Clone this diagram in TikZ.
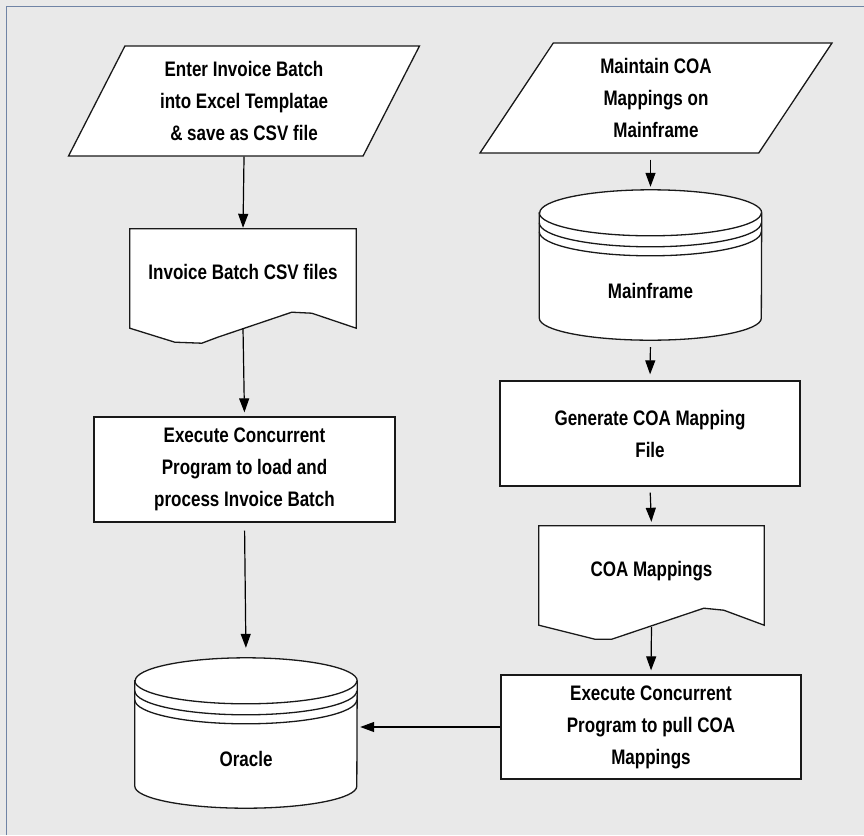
\documentclass[tikz,border=0pt]{standalone}
\usepackage{fontspec}
\newfontfamily\flowfont[FakeStretch=0.81]{Liberation Sans}
\usetikzlibrary{shapes.geometric,arrows.meta,calc,backgrounds}
\definecolor{backgray}{RGB}{233,233,233}
\definecolor{frameblue}{RGB}{112,132,165}

\begin{document}
\begin{tikzpicture}[x=1pt,y=1pt,
  every node/.style={font=\flowfont\bfseries\fontsize{21}{32}\selectfont, align=center},
  shapeline/.style={line width=1.3pt, draw=black!90},
  inbox/.style={trapezium, trapezium left angle=63.4, trapezium right angle=116.6, trapezium stretches=true, minimum width=352pt, minimum height=110pt, shapeline, fill=white, inner sep=0pt},
  procbox/.style={rectangle, shapeline, fill=white, minimum height=105pt},
  docbox/.style={rectangle, minimum height=99pt, text height=15pt, text depth=14pt},
  dbbox/.style={rectangle, minimum height=150pt, text height=67pt, text depth=0pt},
  arr/.style={line width=1.2pt, -{Triangle[length=14pt,width=10pt]}}]

\useasboundingbox (0,0) rectangle (864,-835);

% left column
\node[inbox] (enter) at (244,-101) {Enter Invoice Batch\\into Excel Templatae\\\& save as CSV file};
\node[docbox, minimum width=226pt] (csv) at (243,-278.5) {Invoice Batch CSV files};
\node[procbox, minimum width=301pt] (load) at (244.5,-469.5) {Execute Concurrent\\Program to load and\\process Invoice Batch};
\node[dbbox, minimum width=222pt] (oracle) at (246,-733) {Oracle};

% right column
\node[inbox] (maintain) at (656,-98) {Maintain COA\\Mappings on\\Mainframe};
\node[dbbox, minimum width=222pt] (mainframe) at (650.5,-265) {Mainframe};
\node[procbox, minimum width=300pt] (generate) at (650,-433.5) {Generate COA Mapping\\File};
\node[docbox, minimum width=225pt] (coa) at (651.5,-575.5) {COA Mappings};
\node[procbox, minimum width=300pt, minimum height=104pt] (pull) at (651,-727) {Execute Concurrent\\Program to pull COA\\Mappings};

\draw[arr, shorten >=1pt] (enter.south) -- (csv.north);
\draw[arr, shorten >=4pt] (csv.south) -- (load.north);
\draw[arr, shorten <=8pt, shorten >=10pt] (load.south) -- (oracle.north);
\draw[arr, shorten <=6pt, shorten >=3pt] (mainframe.north |- maintain.south) -- (mainframe.north);
\draw[arr, shorten <=7pt, shorten >=6pt] (mainframe.south) -- (generate.north);
\draw[arr, shorten <=6pt, shorten >=4pt] (generate.south) -- (coa.north);
\draw[arr, shorten <=2pt, shorten >=4pt] (coa.south) -- (pull.north);
\draw[arr, shorten >=3pt] (pull.west) -- (pull.west -| oracle.east);

\begin{scope}[on background layer]
\fill[backgray] (0,0) rectangle (864,-835);
\draw[frameblue, line width=1.6pt] (6.5,-835) -- (6.5,-6.5) -- (864,-6.5);

% documents
\draw[shapeline, fill=white] (csv.south east) -- (csv.north east) -- (csv.north west) -- (csv.south west)
  -- ++(45,-14) -- ++(27,-1) -- ++(16,6) -- ++(74,25) -- ++(20,-1) -- cycle;
\draw[shapeline, fill=white] (coa.south east) -- (coa.north east) -- (coa.north west) -- (coa.south west)
  -- ++(56,-14) -- ++(17,0) -- ++(92,31) -- ++(20,-2) -- cycle;

% databases
\draw[shapeline, fill=white] ($(oracle.north west)+(0,-23)$) -- ($(oracle.south west)+(0,22)$)
  arc[start angle=180, end angle=360, x radius=111pt, y radius=22pt] -- ($(oracle.north east)+(0,-23)$)
  arc[start angle=0, end angle=180, x radius=111pt, y radius=23pt] -- cycle;
\draw[shapeline] ($(oracle.north west)+(0,-23)$) arc[start angle=180, end angle=360, x radius=111pt, y radius=23pt];
\draw[shapeline] ($(oracle.north west)+(0,-33)$) arc[start angle=180, end angle=360, x radius=111pt, y radius=24pt];
\draw[shapeline] ($(oracle.north west)+(0,-42)$) arc[start angle=180, end angle=360, x radius=111pt, y radius=24pt];

\draw[shapeline, fill=white] ($(mainframe.north west)+(0,-23)$) -- ($(mainframe.south west)+(0,22)$)
  arc[start angle=180, end angle=360, x radius=111pt, y radius=22pt] -- ($(mainframe.north east)+(0,-23)$)
  arc[start angle=0, end angle=180, x radius=111pt, y radius=23pt] -- cycle;
\draw[shapeline] ($(mainframe.north west)+(0,-23)$) arc[start angle=180, end angle=360, x radius=111pt, y radius=23pt];
\draw[shapeline] ($(mainframe.north west)+(0,-33)$) arc[start angle=180, end angle=360, x radius=111pt, y radius=24pt];
\draw[shapeline] ($(mainframe.north west)+(0,-42)$) arc[start angle=180, end angle=360, x radius=111pt, y radius=24pt];
\end{scope}

\end{tikzpicture}
\end{document}
